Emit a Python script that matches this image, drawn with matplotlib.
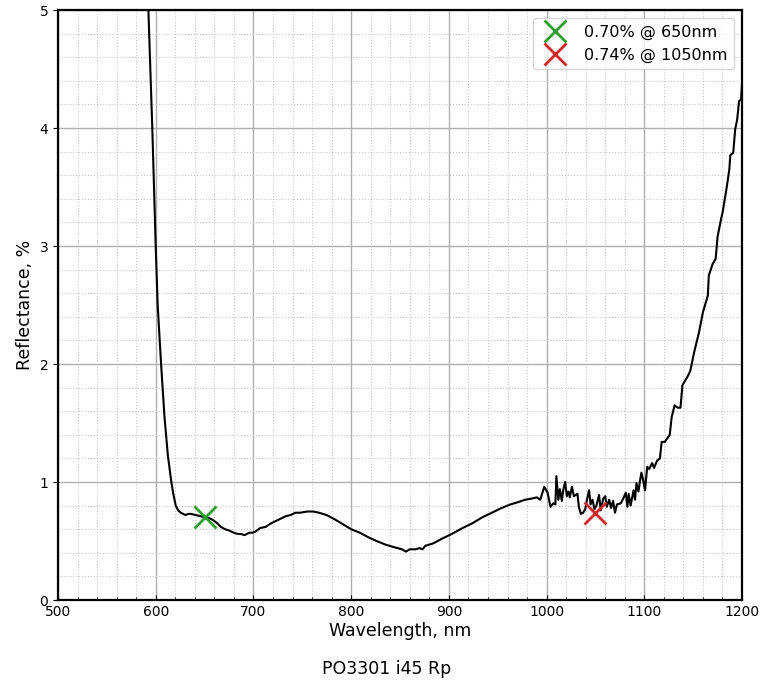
import matplotlib
matplotlib.use('Agg')
import matplotlib.pyplot as plt
import numpy as np

wl = [590, 592.5, 596.5, 600, 602, 605.5, 609, 612.5, 616, 618, 620.5, 623, 625.6, 628, 630.7, 633, 636,
      641, 646, 651, 656, 660, 663, 666.6, 671, 675, 680, 684, 687, 691, 695.6, 699, 702,
      707, 712.6, 718, 723, 728, 733, 738, 743, 748, 755, 761, 767, 775, 784, 792, 800,
      809, 818, 826, 835, 843, 852, 856, 860, 863, 866, 870, 873, 876, 884, 893, 903, 914,
      924, 934, 944, 954, 963, 971, 978, 985, 990, 993.5, 997.6, 1001, 1004, 1007, 1009,
      1010, 1012, 1013.6, 1015.6, 1017, 1019, 1020.7, 1022.4, 1023.8, 1025.9, 1028, 1031.6,
      1033, 1035, 1037.4, 1039.5, 1041.8, 1043.5, 1045, 1047, 1049, 1051, 1053.7, 1055.4,
      1058, 1060, 1061.6, 1064, 1066, 1068, 1070, 1072, 1076, 1079, 1081, 1082.7, 1084,
      1086, 1089, 1090.5, 1092, 1094, 1095.6, 1097, 1099, 1100.7, 1103, 1105, 1108, 1110,
      1113, 1116, 1117.7, 1121, 1126, 1128, 1131, 1134, 1137, 1139, 1144, 1147, 1151,
      1156, 1160, 1165, 1166, 1170, 1173, 1175, 1178.6, 1180, 1184, 1187, 1188, 1191,
      1193, 1195, 1197, 1199, 1200]
refl = [6.0, 5.0, 4.0, 3.0, 2.5, 2.0, 1.55, 1.22, 1.0, 0.90, 0.80, 0.76, 0.74, 0.73, 0.72, 0.73, 0.73,
        0.72, 0.71, 0.70, 0.69, 0.67, 0.65, 0.62, 0.60, 0.59, 0.57, 0.56, 0.56, 0.55, 0.57, 0.57, 0.58,
        0.61, 0.62, 0.65, 0.67, 0.69, 0.71, 0.72, 0.74, 0.74, 0.75, 0.75, 0.74, 0.72, 0.68, 0.64, 0.60,
        0.57, 0.53, 0.50, 0.47, 0.45, 0.43, 0.41, 0.43, 0.43, 0.43, 0.44, 0.43, 0.46, 0.48, 0.52, 0.56, 0.61,
        0.65, 0.70, 0.74, 0.78, 0.81, 0.83, 0.85, 0.86, 0.87, 0.85, 0.96, 0.91, 0.79, 0.82, 0.81,
        1.05, 0.85, 0.94, 0.84, 0.93, 1.00, 0.88, 0.92, 0.87, 0.96, 0.88, 0.90,
        0.79, 0.73, 0.74, 0.77, 0.87, 0.93, 0.81, 0.85, 0.77, 0.80, 0.89, 0.76,
        0.86, 0.88, 0.79, 0.85, 0.78, 0.84, 0.74, 0.81, 0.82, 0.87, 0.91, 0.79, 0.90,
        0.80, 0.93, 0.85, 0.99, 0.92, 1.01, 1.08, 1.01, 0.93, 1.13, 1.11, 1.16, 1.12,
        1.18, 1.20, 1.34, 1.34, 1.40, 1.55, 1.65, 1.63, 1.63, 1.82, 1.89, 1.94, 2.10,
        2.27, 2.44, 2.58, 2.75, 2.85, 2.89, 3.08, 3.23, 3.28, 3.48, 3.65, 3.77, 3.79,
        3.99, 4.07, 4.23, 4.24, 4.38]

# marked points
mark_wl = [650, 1050]
mark_val = [0.70, 0.74]
mark_col = ['#2ca02c', '#d62728']
mark_lbl = ['0.70% @ 650nm', '0.74% @ 1050nm']

fig = plt.figure(figsize=(7.62, 6.90), dpi=100)
ax = fig.add_axes([0.0761, 0.1304, 0.8977, 0.8551])

ax.plot(wl, refl, color='black', lw=1.5)
for x, y, c, l in zip(mark_wl, mark_val, mark_col, mark_lbl):
    ax.plot(x, y, marker='x', ls='none', color=c, markersize=16, markeredgewidth=2, label=l)

ax.set_xlim(500, 1200)
ax.set_ylim(0, 5)
ax.set_xticks(np.arange(500, 1201, 100))
ax.set_xticks(np.arange(500, 1201, 20), minor=True)
ax.set_yticks(np.arange(0, 6, 1))
ax.set_yticks(np.arange(0, 5.01, 0.2), minor=True)
ax.grid(which='major', color='#b0b0b0', lw=1)
ax.grid(which='minor', color='#c8c8c8', lw=0.8, ls=':')
ax.tick_params(axis='x', which='both', direction='in')
ax.tick_params(axis='y', which='major', direction='out')
ax.tick_params(axis='y', which='minor', length=0)
ax.tick_params(labelsize=10)
for s in ax.spines.values():
    s.set_linewidth(1.6)

ax.set_xlabel('Wavelength, nm', fontsize=12.5, labelpad=2)
ax.set_ylabel('Reflectance, %', fontsize=12.5)
ax.legend(loc='upper right', fontsize=11.5, markerscale=1.0)

fig.text(0.508, 0.018, 'PO3301 i45 Rp', ha='center', va='bottom', fontsize=12.5)

plt.savefig('out.png', dpi=100)
